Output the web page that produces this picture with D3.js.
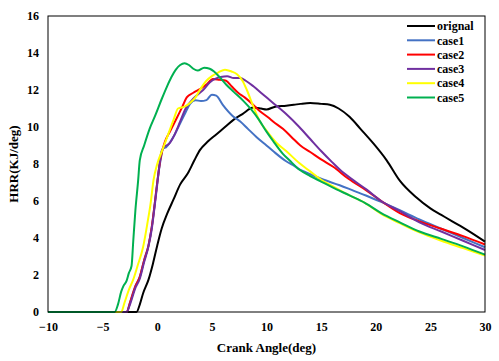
<!DOCTYPE html>
<html>
<head>
<meta charset="utf-8">
<script src="https://cdn.jsdelivr.net/npm/d3@7"></script>
<style>
  body { margin: 0; background: #fff; }
</style>
</head>
<body>
<svg id="chart"></svg>
<script>
// Heat release rate vs crank angle, [angle, HRR]
const orignal = [[-10,0],[-1.9,0],[-1.6,0.4],[-1.3,1.0],[-0.8,1.75],[-0.4,2.6],[0,3.6],[0.4,4.5],[0.9,5.3],[1.5,6.1],[2.1,6.9],[2.8,7.5],[3.4,8.2],[3.9,8.75],[4.6,9.2],[5.4,9.6],[6.2,10.0],[7,10.4],[7.8,10.7],[8.8,11.05],[9.5,11.0],[10,10.95],[10.8,11.1],[11.8,11.15],[12.5,11.2],[13.1,11.25],[14,11.3],[15,11.25],[15.8,11.2],[16.6,11.0],[17.6,10.55],[18.6,9.9],[19.8,9.1],[21,8.2],[22.2,7.1],[23.7,6.2],[25,5.6],[26,5.25],[27,4.9],[28.3,4.45],[30,3.8]];
const case1 = [[-10,0],[-2.8,0],[-2.5,0.5],[-2,1.4],[-1.6,1.9],[-1.2,2.8],[-0.8,3.6],[-0.5,4.6],[-0.2,6.0],[0,7.0],[0.3,8.2],[0.55,8.85],[0.8,8.9],[1.2,9.2],[1.6,9.6],[2.1,10.2],[2.6,10.8],[3,11.25],[3.5,11.45],[4,11.4],[4.5,11.45],[5,11.75],[5.4,11.7],[6,11.2],[6.9,10.6],[7.6,10.3],[8.3,9.9],[9.1,9.45],[10,9.0],[10.6,8.7],[11.8,8.15],[12.4,7.95],[13.2,7.65],[14,7.45],[15,7.2],[16.7,6.85],[18,6.55],[19.1,6.3],[20.5,5.95],[22.2,5.5],[24,5.0],[26,4.5],[28,4.0],[30,3.5]];
const case2 = [[-10,0],[-2.8,0],[-2.5,0.5],[-2,1.4],[-1.6,1.9],[-1.2,2.8],[-0.8,3.6],[-0.5,4.6],[-0.2,6.0],[0,7.0],[0.3,8.3],[0.7,9.2],[1.2,9.8],[1.8,10.5],[2.3,11.1],[2.7,11.6],[3.3,11.85],[3.9,12.05],[4.5,12.3],[5.1,12.6],[5.7,12.55],[6.3,12.5],[6.8,12.2],[7.4,11.85],[8,11.6],[8.6,11.3],[9.4,10.85],[10.2,10.5],[10.6,10.3],[11.5,9.9],[12.3,9.45],[13.1,9.0],[14,8.65],[15,8.25],[16.1,7.85],[17.5,7.2],[19.2,6.55],[20.5,6.0],[22.2,5.35],[24,4.9],[26,4.5],[28,4.1],[30,3.65]];
const case3 = [[-10,0],[-2.8,0],[-2.5,0.4],[-2,1.3],[-1.6,1.8],[-1.2,2.7],[-0.8,3.55],[-0.5,4.5],[-0.2,5.9],[0,6.9],[0.4,8.7],[0.7,8.95],[1.1,9.1],[1.6,9.6],[2.1,10.3],[2.6,11],[3.1,11.4],[3.6,11.7],[4.2,12.0],[4.8,12.4],[5.3,12.6],[5.8,12.7],[6.4,12.75],[7,12.65],[7.6,12.65],[8.1,12.5],[8.8,12.2],[9.6,11.8],[10.6,11.3],[11.8,10.7],[13,10.0],[14,9.35],[15,8.7],[16,8.1],[16.7,7.7],[18,7.1],[19.2,6.6],[20.5,6.0],[22.2,5.45],[24,4.85],[26,4.35],[28,3.85],[30,3.35]];
const case4 = [[-10,0],[-3.3,0],[-3,0.5],[-2.6,1.2],[-2.2,1.75],[-1.8,2.5],[-1.3,3.5],[-0.9,4.8],[-0.6,5.9],[-0.35,7.1],[0,8.0],[0.5,8.8],[1,9.6],[1.5,10.4],[1.9,11.0],[2.5,11.1],[3,11.3],[3.5,11.6],[4,12.1],[4.5,12.5],[5,12.75],[5.6,12.95],[6.2,13.1],[6.8,13.0],[7.3,12.85],[7.8,12.5],[8.2,12.0],[8.8,11.1],[9.4,10.3],[10,9.8],[10.9,9.15],[11.8,8.7],[13,8.05],[14,7.6],[15,7.15],[16.2,6.75],[17.6,6.3],[19,5.9],[20.5,5.3],[22.2,4.8],[24,4.3],[26,3.85],[28,3.45],[30,3.05]];
const case5 = [[-10,0],[-3.9,0],[-3.6,0.4],[-3.3,1.1],[-3.1,1.4],[-2.8,1.7],[-2.6,2.1],[-2.35,2.5],[-2.2,3.8],[-2.0,5.5],[-1.75,7.1],[-1.6,8.2],[-1.2,9.0],[-0.7,9.9],[-0.2,10.6],[0.4,11.5],[0.9,12.2],[1.3,12.7],[1.7,13.1],[2.1,13.35],[2.5,13.45],[2.9,13.35],[3.3,13.15],[3.7,13.05],[4.3,13.2],[4.8,13.15],[5.2,13.0],[5.7,12.7],[6.3,12.3],[7,11.9],[7.9,11.4],[8.6,10.95],[9.3,10.4],[10,9.75],[10.6,9.25],[11.5,8.55],[12.1,8.2],[13,7.7],[14,7.35],[15,7.05],[16,6.75],[17.6,6.3],[19,5.9],[20.5,5.35],[22.2,4.85],[24,4.35],[26,3.95],[28,3.55],[30,3.1]];

const seriesNames = ['orignal', 'case1', 'case2', 'case3', 'case4', 'case5'];
const seriesColors = ['#000000', '#4472c4', '#ff0000', '#7030a0', '#ffff00', '#00b050'];
const xTicks = [-10, -5, 0, 5, 10, 15, 20, 25, 30];
const yTicks = [0, 2, 4, 6, 8, 10, 12, 14, 16];

const allSeries = [orignal, case1, case2, case3, case4, case5];
const serif = '"Times New Roman", "Liberation Serif", serif';

const width = 499, height = 361;
const margin = { top: 16, right: 14, bottom: 49, left: 48 };
const innerW = width - margin.left - margin.right;
const innerH = height - margin.top - margin.bottom;

const svg = d3.select('#chart')
  .attr('width', width)
  .attr('height', height)
  .attr('font-family', serif)
  .attr('font-weight', 'bold');

const g = svg.append('g')
  .attr('transform', `translate(${margin.left},${margin.top})`);

const x = d3.scaleLinear().domain([-10, 30]).range([0, innerW]);
const y = d3.scaleLinear().domain([0, 16]).range([innerH, 0]);

// axes (no tick marks, labels only)
const xAxisG = g.append('g')
  .attr('transform', `translate(0,${innerH})`)
  .call(d3.axisBottom(x).tickValues(xTicks).tickSize(0).tickPadding(10));
const yAxisG = g.append('g')
  .call(d3.axisLeft(y).tickValues(yTicks).tickSize(0).tickPadding(9));

xAxisG.select('.domain').remove();
yAxisG.select('.domain').remove();
g.selectAll('.tick text').attr('fill', '#000');
xAxisG.attr('font-family', serif).attr('font-size', 12).attr('font-weight', 'bold');
yAxisG.attr('font-family', serif).attr('font-size', 12).attr('font-weight', 'bold');

// lines
const line = d3.line()
  .x(d => x(d[0]))
  .y(d => y(d[1]))
  .curve(d3.curveMonotoneX);

g.selectAll('.series')
  .data(allSeries)
  .join('path')
  .attr('class', 'series')
  .attr('fill', 'none')
  .attr('stroke', (d, i) => seriesColors[i])
  .attr('stroke-width', 2)
  .attr('d', line);

// plot frame
g.append('rect')
  .attr('width', innerW)
  .attr('height', innerH)
  .attr('fill', 'none')
  .attr('stroke', '#000')
  .attr('stroke-width', 1);

// axis titles
svg.append('text')
  .attr('x', margin.left + innerW / 2)
  .attr('y', 352)
  .attr('text-anchor', 'middle')
  .attr('font-size', 13)
  .text('Crank Angle(deg)');

svg.append('text')
  .attr('transform', `translate(18,${margin.top + innerH / 2}) rotate(-90)`)
  .attr('text-anchor', 'middle')
  .attr('font-size', 13)
  .text('HRR(KJ/deg)');

// legend
const legend = svg.append('g').attr('transform', 'translate(407,26)');
const rows = legend.selectAll('g')
  .data(seriesNames)
  .join('g')
  .attr('transform', (d, i) => `translate(0,${i * 14.3})`);
rows.append('line')
  .attr('x1', 0).attr('x2', 28)
  .attr('stroke', (d, i) => seriesColors[i])
  .attr('stroke-width', 2);
rows.append('text')
  .attr('x', 30)
  .attr('dy', '0.35em')
  .attr('font-size', 12)
  .text(d => d);
</script>
</body>
</html>
